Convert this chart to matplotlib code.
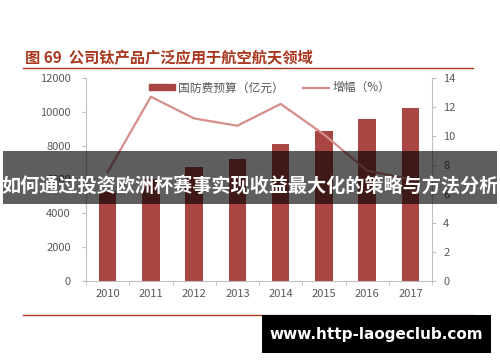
import matplotlib
matplotlib.use("Agg")
import matplotlib.pyplot as plt
import numpy as np
from matplotlib.patches import Rectangle, Patch
from matplotlib.lines import Line2D

plt.rcParams["font.family"] = ["Noto Sans CJK SC", "DejaVu Sans"]

years = ["2010", "2011", "2012", "2013", "2014", "2015", "2016", "2017"]
budget = [5321, 6012, 6703, 7202, 8082, 8869, 9544, 10211]
growth = [7.5, 12.7, 11.2, 10.7, 12.2, 10.1, 7.6, 7.0]

BAR, LINE, GREY = "#a94543", "#d68e8c", "#595959"

fig = plt.figure(figsize=(5.0, 3.62), dpi=100)
ax = fig.add_axes([0.172, 0.224, 0.692, 0.561])
x = np.arange(len(years))
ax.bar(x, budget, width=0.4, color=BAR, zorder=2)
ax.set_xlim(-0.5, len(years) - 0.5)
ax.set_ylim(0, 12000)
ax.set_yticks(range(0, 12001, 2000))
ax.set_xticks(x)
ax.set_xticklabels(years)
ax.set_xticks(np.arange(-0.5, len(years)), minor=True)
ax.tick_params(axis="x", which="major", length=0, labelsize=8,
               labelcolor=GREY, pad=6)
ax.tick_params(axis="x", which="minor", length=3, color="#bfbfbf")
ax.tick_params(axis="y", length=3, color="#bfbfbf", labelsize=8,
               labelcolor=GREY, pad=8)
for s in ("top", "right"):
    ax.spines[s].set_visible(False)
for s in ("left", "bottom"):
    ax.spines[s].set_color("#bfbfbf")

ax2 = ax.twinx()
ax2.plot(x, growth, color=LINE, lw=1.6, zorder=3)
ax2.set_ylim(0, 14)
ax2.set_yticks(range(0, 15, 2))
ax2.tick_params(axis="y", length=3, color="#bfbfbf", labelsize=8,
                labelcolor=GREY, pad=5)
for s in ("top", "left", "bottom"):
    ax2.spines[s].set_visible(False)
ax2.spines["right"].set_color("#bfbfbf")

handles = [Patch(color=BAR), Line2D([], [], color=LINE, lw=1.6)]
ax2.legend(handles, ["国防费预算（亿元）", "增幅（%）"], loc="upper center",
           bbox_to_anchor=(0.53, 1.035), ncol=2, frameon=False, fontsize=8.5,
           labelcolor=GREY, handlelength=2.2, handleheight=0.45,
           columnspacing=1.6, handletextpad=0.3)

# title and rules
fig.text(0.05, 0.84, "图 69  公司钛产品广泛应用于航空航天领域", fontsize=11,
         fontweight="bold", color="#a8391f", va="center")
fig.add_artist(Line2D([0.046, 0.946], [0.812, 0.812], color="#a8391f", lw=1.0))
fig.add_artist(Line2D([0.046, 0.946], [0.130, 0.130], color="#a8391f", lw=1.0))

# overlay banner
fig.add_artist(Rectangle((0.006, 0.436), 0.988, 0.146, transform=fig.transFigure,
                         color="black", alpha=0.63, lw=0, zorder=5))
fig.text(0.5, 0.487, "如何通过投资欧洲杯赛事实现收益最大化的策略与方法分析",
         fontsize=13.8, fontweight="bold", color="white", ha="center",
         va="center", zorder=6)

# watermark box
fig.add_artist(Rectangle((0.524, 0.025), 0.458, 0.105, transform=fig.transFigure,
                         color="black", lw=0, zorder=5))
fig.text(0.753, 0.077, "www.http-laogeclub.com", fontsize=11, fontweight="bold",
         color="white", ha="center", va="center", zorder=6,
         family="DejaVu Sans")

fig.savefig("out.png", dpi=100)
